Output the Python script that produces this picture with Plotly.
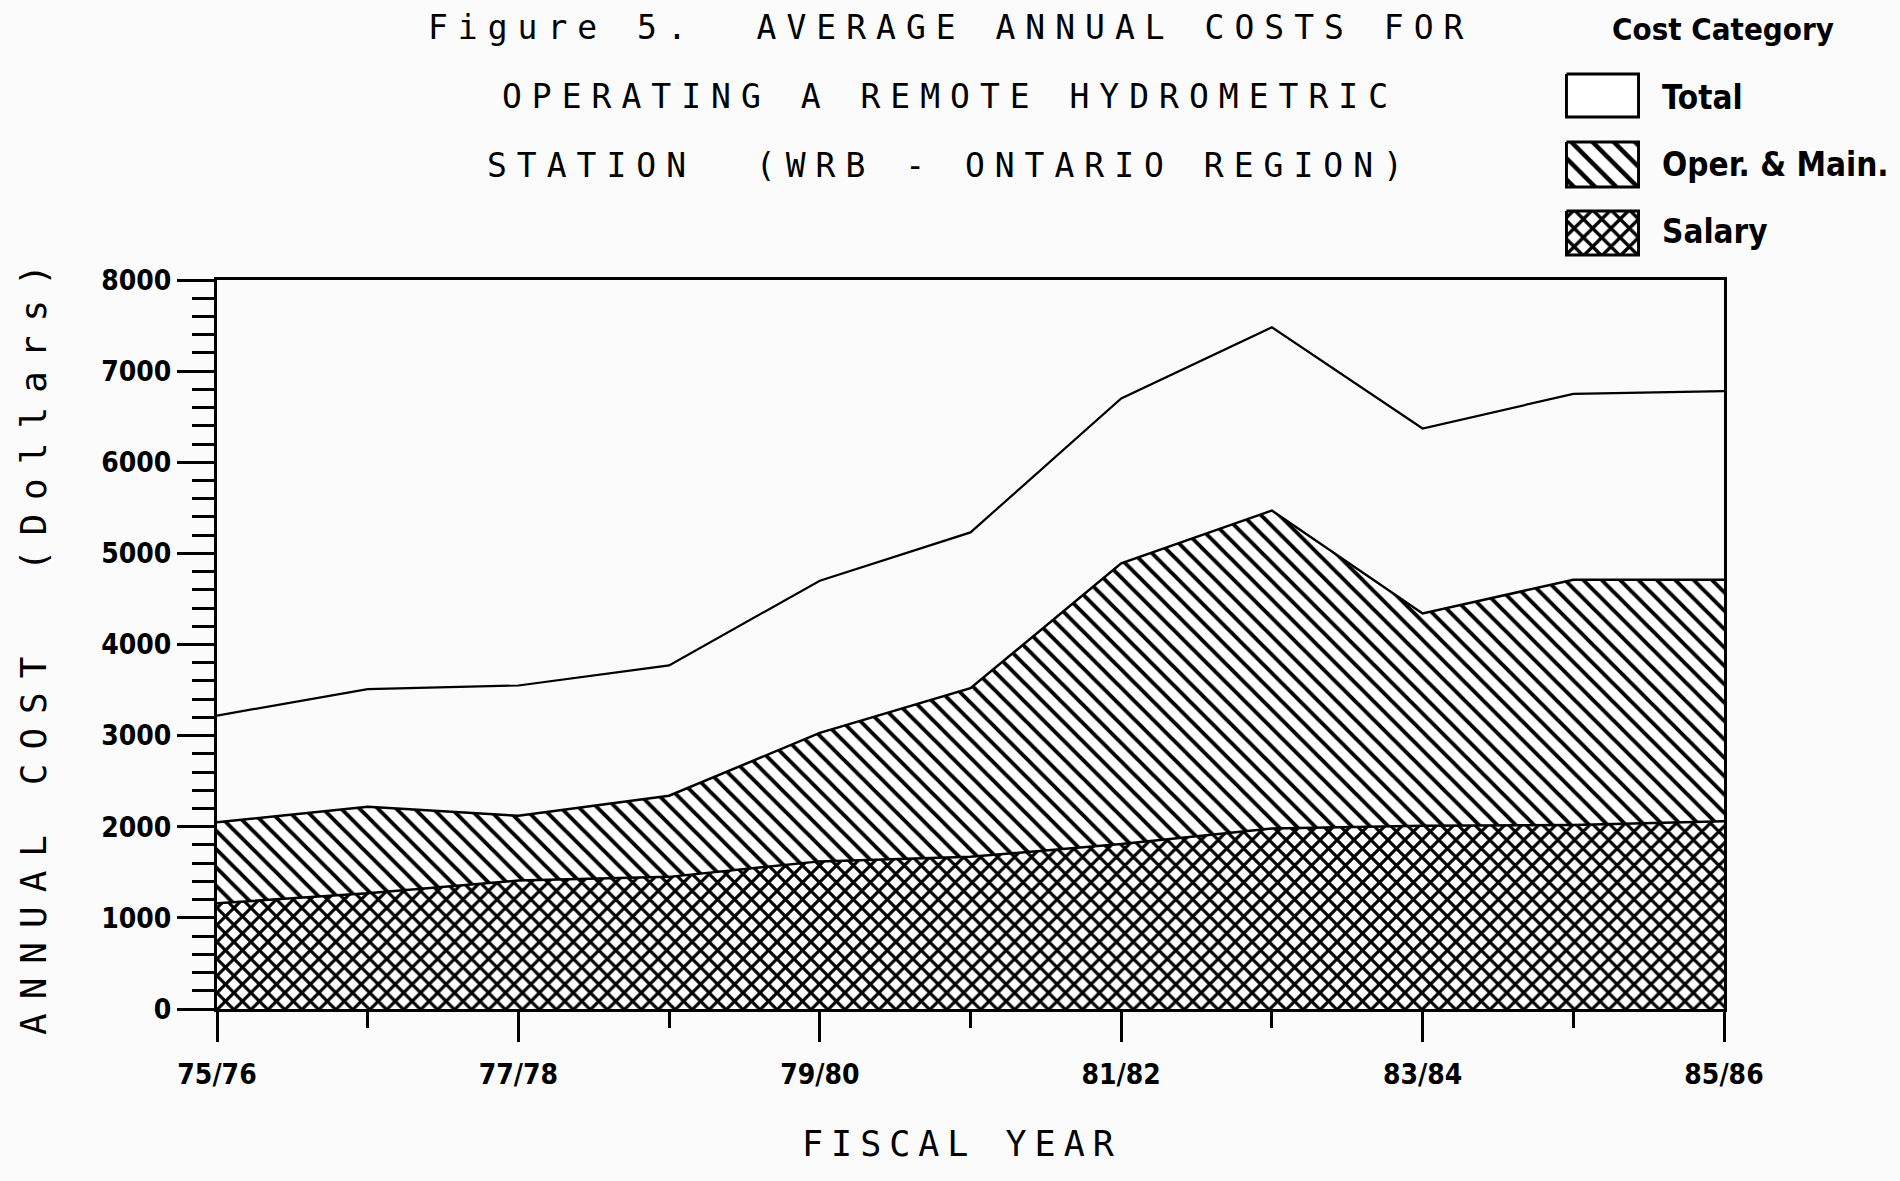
import plotly.graph_objects as go

# ---- data ----
years = ["75/76", "76/77", "77/78", "78/79", "79/80", "80/81",
         "81/82", "82/83", "83/84", "84/85", "85/86"]
salary = [1160, 1270, 1410, 1450, 1620, 1670, 1810, 1980, 2010, 2020, 2060]
oper_main = [890, 950, 710, 890, 1410, 1850, 3080, 3490, 2330, 2690, 2650]
total = [3220, 3510, 3550, 3770, 4700, 5230, 6700, 7480, 6370, 6750, 6780]
y_ticks = [0, 1000, 2000, 3000, 4000, 5000, 6000, 7000, 8000]
legend_labels = ["Total", "Oper. & Main.", "Salary"]

xi = list(range(len(years)))
om_top = [s + o for s, o in zip(salary, oper_main)]

BG = "#fbfbfb"
MONO = "DejaVu Sans Mono, monospace"
COND = "DejaVu Sans Condensed, Liberation Sans Narrow, sans-serif"

fig = go.Figure()

fig.add_trace(go.Scatter(
    x=xi, y=salary, mode="lines", name="Salary", showlegend=False,
    line=dict(color="black", width=2.5),
    fill="tozeroy",
    fillpattern=dict(shape="x", size=12, solidity=0.45,
                     fgcolor="black", bgcolor="white"),
))
fig.add_trace(go.Scatter(
    x=xi, y=om_top, mode="lines", name="Oper. & Main.", showlegend=False,
    line=dict(color="black", width=2.5),
    fill="tonexty",
    fillpattern=dict(shape="\\", size=13, solidity=0.3,
                     fgcolor="black", bgcolor="white"),
))
fig.add_trace(go.Scatter(
    x=xi, y=total, mode="lines", name="Total", showlegend=False,
    line=dict(color="black", width=2.2),
    fill="tonexty", fillcolor=BG,
))

# ---- custom legend swatches (legend geometry in pixel units) ----
sw_rows = [(74, 117), (142, 187), (211, 255)]
sw_styles = [
    dict(fillcolor="white"),
    dict(fillpattern=dict(shape="\\", size=15, solidity=0.3,
                          fgcolor="black", bgcolor="white")),
    dict(fillpattern=dict(shape="x", size=13, solidity=0.45,
                          fgcolor="black", bgcolor="white")),
]
for (y0, y1), st, lab in zip(sw_rows, sw_styles, legend_labels):
    fig.add_trace(go.Scatter(
        x=[0, 1, 1, 0, 0], y=[y0, y0, y1, y1, y0], mode="lines",
        fill="toself", line=dict(color="black", width=3),
        xaxis="x2", yaxis="y2", showlegend=False, hoverinfo="skip",
        name=lab, **st))

W, H = 1900, 1181
L, R, T, B = 217, 1724, 280, 1009

fig.update_layout(
    template="none",
    width=W, height=H,
    margin=dict(l=0, r=0, t=0, b=0, pad=0, autoexpand=False),
    paper_bgcolor=BG, plot_bgcolor=BG,
    showlegend=False,
    xaxis=dict(
        domain=[L / W, R / W], range=[0, len(years) - 1], automargin=False,
        tickvals=xi[::2], ticktext=years[::2],
        ticks="outside", ticklen=30, tickwidth=2.5, tickcolor="black",
        minor=dict(tickvals=xi[1::2], ticks="outside", ticklen=16,
                   tickwidth=2.5, tickcolor="black"),
        showline=True, linewidth=3, linecolor="black", mirror=True,
        showgrid=False, zeroline=False, ticklabelstandoff=8,
        tickfont=dict(family=COND, size=28, color="black", weight="bold"),
    ),
    yaxis=dict(
        domain=[(H - B) / H, (H - T) / H], range=[0, 8000], automargin=False,
        tickvals=y_ticks,
        ticks="outside", ticklen=37, tickwidth=2.5, tickcolor="black",
        minor=dict(dtick=200, ticks="outside", ticklen=22,
                   tickwidth=2.5, tickcolor="black"),
        showline=True, linewidth=3, linecolor="black", mirror=True,
        showgrid=False, zeroline=False, ticklabelstandoff=0,
        tickfont=dict(family=COND, size=28, color="black", weight="bold"),
    ),
    yaxis3=dict(
        overlaying="y", side="right", anchor="x", range=[0, 8000],
        automargin=False,
        tickvals=y_ticks[1:-1], ticks="outside", ticklen=11, tickwidth=2.5,
        tickcolor="black", showticklabels=False, showline=False,
        showgrid=False, zeroline=False,
    ),
    yaxis4=dict(
        overlaying="y", side="right", anchor="x", range=[0, 8000],
        automargin=False,
        tickvals=y_ticks[1:-1], ticks="inside", ticklen=11, tickwidth=2.5,
        tickcolor="black", showticklabels=False, showline=False,
        showgrid=False, zeroline=False,
    ),
    xaxis2=dict(domain=[1565 / W, 1640 / W], range=[-0.02, 1.02],
                visible=False, fixedrange=True, automargin=False),
    yaxis2=dict(domain=[1 - 257 / H, 1 - 72 / H], range=[257, 72],
                visible=False, fixedrange=True, anchor="x2", automargin=False),
)

def sp(txt, ls):
    return f'<span style="letter-spacing:{ls}px">{txt}</span>'

title_lines = ["Figure 5.&nbsp; AVERAGE ANNUAL COSTS FOR",
               "OPERATING A REMOTE HYDROMETRIC",
               "STATION&nbsp; (WRB - ONTARIO REGION)"]
for txt, yp in zip(title_lines, [27, 96, 165]):
    fig.add_annotation(text=sp(txt, 10), x=0.5, y=1 - yp / H,
                       xref="paper", yref="paper", showarrow=False,
                       xanchor="center", yanchor="middle",
                       font=dict(family=MONO, size=33, color="black"))

fig.add_annotation(text=sp("FISCAL YEAR", 8), x=962 / W, y=1 - 1144 / H,
                   xref="paper", yref="paper", showarrow=False,
                   xanchor="center", yanchor="middle",
                   font=dict(family=MONO, size=35, color="black"))
fig.add_annotation(text=sp("ANNUAL COST&nbsp; (Dollars)", 14), x=33 / W,
                   y=1 - 643 / H, xref="paper", yref="paper",
                   showarrow=False, textangle=-90,
                   xanchor="center", yanchor="middle",
                   font=dict(family=MONO, size=36, color="black"))

fig.add_annotation(text="Cost Category", x=1723 / W, y=1 - 29 / H,
                   xref="paper", yref="paper", showarrow=False,
                   xanchor="center", yanchor="middle",
                   font=dict(family=COND, size=31, color="black",
                             weight="bold"))
for lab, yp in zip(legend_labels, [97, 164, 232]):
    fig.add_annotation(text=lab, x=1660 / W, y=1 - yp / H,
                       xref="paper", yref="paper", showarrow=False,
                       xanchor="left", yanchor="middle",
                       font=dict(family=COND, size=33, color="black",
                                 weight="bold"))

fig.write_html("out.html", config={"displayModeBar": False},
               post_script="document.body.style.margin='0';")
